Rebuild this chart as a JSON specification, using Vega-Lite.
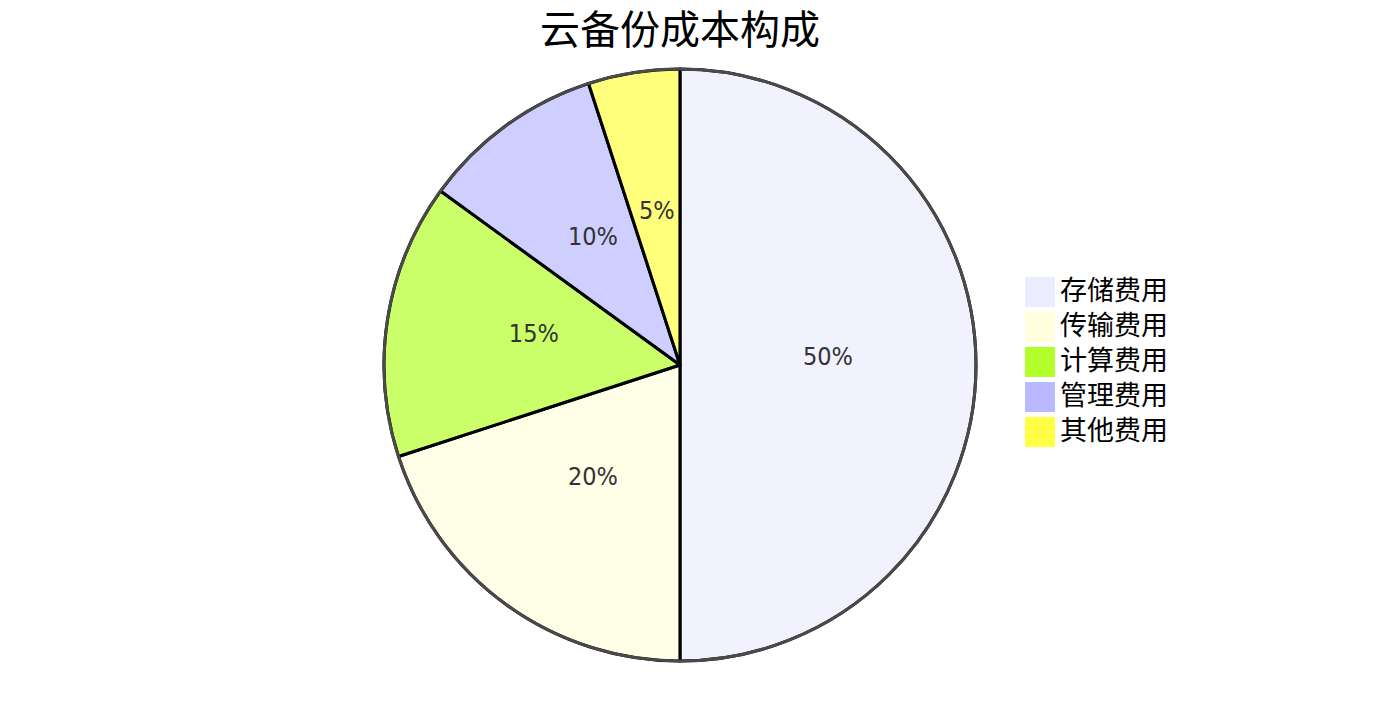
{
  "$schema": "https://vega.github.io/schema/vega-lite/v6.json",
  "width": 1360,
  "height": 618,
  "padding": {"top": 12, "left": 0, "right": 0, "bottom": 0},
  "background": "white",
  "title": {
    "text": "云备份成本构成",
    "fontSize": 40,
    "font": "Noto Sans CJK SC",
    "fontWeight": "normal",
    "color": "#000000",
    "anchor": "middle",
    "frame": "group",
    "offset": 4
  },
  "config": {"view": {"stroke": null}},
  "layer": [
    {
      "data": {
        "values": [
          {"category": "存储费用", "value": 50, "label": "50%", "rank": 1},
          {"category": "传输费用", "value": 20, "label": "20%", "rank": 2},
          {"category": "计算费用", "value": 15, "label": "15%", "rank": 3},
          {"category": "管理费用", "value": 10, "label": "10%", "rank": 4},
          {"category": "其他费用", "value": 5, "label": "5%", "rank": 5}
        ]
      },
      "layer": [
        {
          "mark": {"type": "arc", "radius": 296, "stroke": "#000000", "strokeWidth": 3, "fillOpacity": 0.7, "strokeJoin": "round"},
          "encoding": {
            "theta": {"field": "value", "type": "quantitative", "stack": true},
            "order": {"field": "rank", "type": "quantitative"},
            "color": {
              "field": "category",
              "type": "nominal",
              "sort": ["存储费用", "传输费用", "计算费用", "管理费用", "其他费用"],
              "scale": {
                "domain": ["存储费用", "传输费用", "计算费用", "管理费用", "其他费用"],
                "range": ["#ECECFF", "#FFFFDE", "#B3FF2A", "#B9B9FF", "#FFFF45"]
              },
              "legend": {
                "title": null,
                "orient": "none",
                "legendX": 1025,
                "legendY": 221,
                "padding": 0,
                "symbolType": "square",
                "symbolSize": 900,
                "symbolStrokeWidth": 0,
                "symbolOpacity": 1,
                "labelFontSize": 27,
                "labelFont": "Noto Sans CJK SC",
                "labelColor": "#000000",
                "labelOffset": 5,
                "rowPadding": 5,
                "labelLimit": 400
              }
            }
          }
        },
        {
          "mark": {"type": "text", "radius": 148, "fontSize": 25, "font": "DejaVu Sans Condensed, Noto Sans, sans-serif", "color": "#333333", "baseline": "alphabetic", "align": "center"},
          "encoding": {
            "theta": {"field": "value", "type": "quantitative", "stack": true},
            "order": {"field": "rank", "type": "quantitative"},
            "text": {"field": "label", "type": "nominal"}
          }
        }
      ]
    },
    {
      "data": {"values": [{"ring": "outer"}]},
      "mark": {"type": "arc", "radius": 296, "theta": 0, "theta2": 6.2832, "fill": null, "stroke": "#4a4a4a", "strokeWidth": 3},
      "encoding": {}
    }
  ]
}
